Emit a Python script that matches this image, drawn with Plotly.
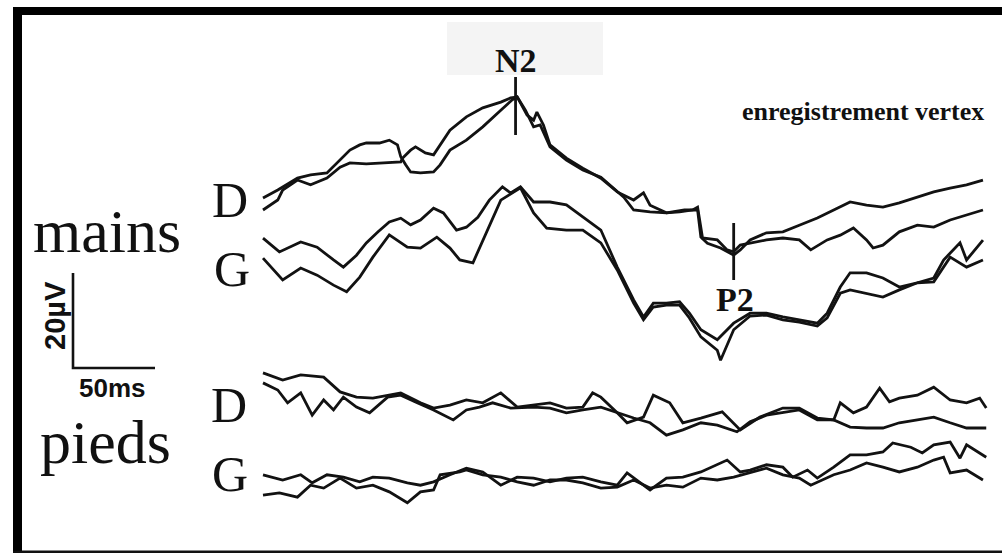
import plotly.graph_objects as go

# ---------------- data (time in ms, amplitude in µV, up = positive) ----------------
# mains, D (two superimposed recordings)
md1_t = [0, 9, 21, 29, 39, 47, 53, 59, 63, 71, 77, 82, 84, 87, 90, 96, 104, 108, 114, 124, 134, 145, 152, 155, 160,
         165, 169, 175, 185, 195, 206, 220, 226, 236, 246, 257, 265, 267, 271, 279, 287, 291, 297, 307, 317, 327, 338,
         348, 358, 368, 378, 388, 399, 409, 419, 429, 439]
md1_v = [0.4, 2.1, 4.6, 5.3, 5.7, 8.4, 10.5, 11.6, 12.0, 12.0, 12.6, 11.6, 9.1, 7.4, 5.9, 5.7, 5.9, 7.4, 10.5, 12.6,
         15.4, 18.9, 21.1, 21.7, 18.9, 15.4, 15.8, 11.2, 8.4, 6.3, 4.8, 0.6, -2.1, -2.5, -2.7, -2.1, -2.1, -7.8, -9.1,
         -10.1, -11.6, -10.5, -8.4, -6.9, -6.7, -5.3, -3.8, -2.1, -0.4, -1.1, -1.5, -0.6, 0.6, 1.7, 2.5, 3.2, 4.2]
md2_t = [0, 9, 12, 21, 29, 39, 47, 53, 63, 74, 84, 85, 90, 93, 99, 104, 108, 114, 124, 134, 145, 151, 155, 161, 165,
         167, 171, 175, 185, 195, 206, 216, 226, 232, 236, 246, 254, 262, 265, 268, 277, 283, 287, 291, 297, 307, 317,
         327, 334, 344, 352, 360, 368, 372, 378, 388, 399, 409, 419, 429, 439]
md2_v = [-2.1, 0, 2.1, 4.2, 3.2, 4.6, 6.9, 7.8, 7.6, 7.8, 8.0, 8.8, 10.5, 11.2, 9.9, 9.5, 11.6, 14.7, 17.5, 19.4, 20.6,
         21.5, 21.7, 17.9, 16.8, 18.5, 15.8, 11.6, 8.8, 6.7, 4.6, 1.7, 0, 1.5, -1.1, -2.7, -2.5, -2.1, -1.5, -8.0, -8.4,
         -10.5, -10.9, -9.5, -9.1, -8.4, -8.0, -8.4, -10.5, -8.4, -7.4, -5.9, -8.4, -10.1, -9.5, -6.7, -5.3, -5.7, -4.2,
         -3.2, -2.1]

# mains, G
mg1_t = [0, 10, 23, 33, 43, 49, 57, 63, 70, 77, 84, 90, 96, 104, 110, 118, 124, 131, 138, 146, 151, 157, 165, 175, 185,
         195, 206, 216, 226, 232, 238, 246, 254, 260, 267, 277, 287, 297, 307, 317, 327, 338, 344, 352, 358, 368, 378,
         388, 399, 409, 415, 425, 429, 439]
mg1_v = [2.5, -0.4, 1.7, 0.6, -2.1, -3.6, -1.1, 1.5, 3.8, 5.9, 6.7, 5.3, 6.3, 8.8, 7.8, 4.2, 4.8, 6.9, 10.5, 13.3, 12.0,
         13.3, 10.1, 10.1, 9.5, 6.9, 4.2, -3.6, -10.5, -14.1, -11.2, -11.2, -10.9, -13.3, -16.8, -18.9, -15.4, -13.3,
         -13.3, -14.1, -14.7, -15.4, -13.3, -7.8, -4.8, -4.8, -5.9, -7.8, -6.9, -5.9, -2.1, 1.5, -2.1, 2.1]
mg2_t = [0, 12, 23, 33, 43, 51, 59, 67, 77, 88, 96, 106, 114, 120, 128, 137, 145, 157, 165, 173, 185, 195, 206, 216,
         226, 232, 238, 246, 254, 260, 267, 277, 279, 287, 297, 307, 317, 327, 338, 344, 352, 358, 368, 378, 388, 399,
         409, 419, 429, 439]
mg2_v = [-1.7, -6.3, -3.8, -5.3, -7.4, -8.8, -5.7, -1.5, 3.2, 0.6, 0.4, 2.7, 0.4, -2.1, -2.7, 4.2, 10.5, 13.1, 7.8, 4.6,
         4.2, 4.2, 1.5, -4.2, -11.2, -14.7, -12.0, -11.6, -11.6, -14.3, -18.3, -21.1, -23.2, -16.8, -13.9, -13.7, -14.7,
         -15.2, -16.0, -14.3, -9.1, -8.4, -9.1, -9.9, -8.4, -6.9, -6.7, -1.5, -3.6, -2.1]

# pieds, D
pd1_t = [0, 12, 23, 37, 47, 57, 67, 84, 96, 104, 114, 124, 134, 145, 155, 165, 175, 185, 195, 201, 206, 216, 222, 232,
         238, 248, 256, 267, 280, 291, 303, 317, 327, 338, 348, 352, 360, 368, 376, 382, 388, 399, 409, 419, 429, 437, 441]
pd1_v = [3.6, 2.1, 3.2, 2.7, -0.4, -1.5, -1.7, -0.6, -2.7, -3.8, -3.2, -2.1, -2.7, -0.6, -3.6, -3.2, -2.7, -3.8, -3.6,
         -0.6, -1.5, -4.8, -6.9, -5.7, -1.1, -2.7, -6.9, -5.9, -4.6, -8.4, -5.7, -3.8, -3.8, -5.9, -6.3, -2.7, -4.8,
         -3.6, 0.4, -2.5, -1.7, -1.1, 0.6, -2.1, -2.7, -1.7, -3.8]
pd2_t = [0, 9, 15, 23, 30, 37, 43, 49, 57, 65, 76, 84, 94, 104, 116, 124, 132, 140, 151, 165, 175, 185, 195, 206, 226,
         236, 246, 256, 267, 277, 289, 297, 307, 320, 327, 338, 348, 358, 368, 378, 388, 399, 409, 419, 429, 441]
pd2_v = [1.5, 0, -2.7, -0.6, -5.3, -2.1, -4.2, -1.5, -3.6, -4.8, -1.5, -1.1, -2.7, -4.2, -6.3, -4.2, -3.6, -2.7, -3.8,
         -3.6, -3.8, -4.8, -4.2, -3.6, -5.9, -6.9, -9.5, -8.4, -6.9, -7.4, -8.8, -6.7, -5.3, -4.6, -4.2, -6.3, -6.3,
         -7.8, -8.0, -8.0, -6.9, -6.3, -5.7, -6.9, -8.0, -8.0]

# pieds, G
pg1_t = [0, 12, 23, 30, 39, 49, 59, 67, 77, 88, 96, 104, 114, 124, 134, 145, 155, 165, 175, 185, 195, 206, 216, 222,
         232, 236, 246, 256, 267, 273, 283, 291, 297, 307, 317, 323, 332, 338, 348, 358, 368, 378, 384, 395, 402, 409,
         419, 425, 429, 441]
pg1_v = [1.1, 0, 1.1, -0.6, 1.1, 0.6, -0.4, 0.6, 0.4, -0.6, -1.1, -0.4, 1.1, 2.5, 1.7, -1.1, 0.6, 0.4, -0.4, 0.4, 0.6,
         -0.4, -1.1, 1.5, -1.1, -2.1, 0.4, 0.6, 1.7, 2.7, 4.2, 1.7, 2.1, 3.2, 2.7, 0.6, 2.1, 0.4, 2.7, 5.3, 5.3, 5.9,
         7.8, 6.9, 5.7, 7.4, 8.0, 4.6, 7.4, 4.8]
pg2_t = [0, 10, 21, 29, 37, 47, 57, 67, 77, 88, 96, 104, 108, 120, 124, 134, 145, 155, 165, 175, 185, 195, 206, 216,
         226, 236, 246, 256, 267, 277, 287, 297, 307, 317, 327, 334, 348, 358, 368, 378, 388, 399, 409, 415, 419, 429, 439]
pg2_v = [-3.2, -2.7, -3.6, -1.1, -1.7, 0.4, -1.7, -1.1, -2.5, -4.8, -2.5, -2.1, 1.1, 1.7, 2.1, 1.1, 0.6, -0.4, -1.1, 0,
         0, -0.6, -1.7, -1.5, 0, -1.7, -1.1, -1.5, 0.4, 0, 0.6, 1.5, 2.5, 1.1, 0.4, -1.1, 1.1, 2.1, 3.6, 2.7, 1.7, 2.7,
         4.2, 4.8, 1.5, 2.1, 0]

# peak latencies marked on the mains traces (ms)
peak_names = ["N2", "P2"]
peak_times = [154, 287]

# calibration bar
scale_ms = 50
scale_uv = 20
scale_labels = ["50ms", "20µV"]

row_labels = ["mains", "pieds"]
side_labels = ["D", "G", "D", "G"]
title_text = "enregistrement vertex"

# ---------------- layout constants ----------------
W, H = 1002, 553
PX_PER_MS = 1.64
PX_PER_UV = 4.75
T0_PX = 263.0
X_RANGE = [-T0_PX / PX_PER_MS, (W - T0_PX) / PX_PER_MS]
Y_RANGE = [-H / PX_PER_UV, 0.0]

offsets = {"mD": -200 / PX_PER_UV, "mG": -250 / PX_PER_UV, "pD": -390 / PX_PER_UV, "pG": -480 / PX_PER_UV}
INK = "#121212"
LW = 2.8

series = [
    (md1_t, md1_v, "mD"), (md2_t, md2_v, "mD"),
    (mg1_t, mg1_v, "mG"), (mg2_t, mg2_v, "mG"),
    (pd1_t, pd1_v, "pD"), (pd2_t, pd2_v, "pD"),
    (pg1_t, pg1_v, "pG"), (pg2_t, pg2_v, "pG"),
]

fig = go.Figure()
for t, v, key in series:
    fig.add_trace(go.Scatter(
        x=t, y=[offsets[key] + a for a in v], mode="lines",
        line=dict(color=INK, width=LW), hoverinfo="skip", showlegend=False))

# calibration bar (L shape)
cx, cy = (73 - T0_PX) / PX_PER_MS, -368 / PX_PER_UV
fig.add_trace(go.Scatter(
    x=[cx, cx, cx + scale_ms], y=[cy + scale_uv, cy, cy], mode="lines",
    line=dict(color=INK, width=2.6), hoverinfo="skip", showlegend=False))

shapes = []
# faint grey box behind N2 (scan artefact)
shapes.append(dict(type="rect", xref="paper", yref="paper", x0=447 / W, x1=603 / W,
                   y0=1 - 75 / H, y1=1 - 22 / H, fillcolor="#f4f4f4", line=dict(width=0), layer="below"))
# peak markers
tick_px = {"N2": (77, 135), "P2": (223, 280)}
for name, tt in zip(peak_names, peak_times):
    a, b = tick_px[name]
    shapes.append(dict(type="line", xref="x", yref="y", x0=tt, x1=tt,
                       y0=-a / PX_PER_UV, y1=-b / PX_PER_UV, line=dict(color=INK, width=2.8)))
# frame
shapes.append(dict(type="rect", xref="paper", yref="paper", x0=13 / W, x1=22 / W, y0=0, y1=1 - 7 / H,
                   fillcolor="#000", line=dict(width=0)))
shapes.append(dict(type="rect", xref="paper", yref="paper", x0=13 / W, x1=1, y0=1 - 15 / H, y1=1 - 7 / H,
                   fillcolor="#000", line=dict(width=0)))
shapes.append(dict(type="rect", xref="paper", yref="paper", x0=13 / W, x1=1, y0=0, y1=2.5 / H,
                   fillcolor="#111", line=dict(width=0)))

SERIF = "Liberation Serif, Times New Roman, serif"
SANS = "Liberation Sans, Arial, sans-serif"


def ann(text, x, y, size, family, bold=False, xanchor="center", angle=0):
    return dict(text=("<b>%s</b>" % text) if bold else text, x=x / W, y=1 - y / H, xref="paper", yref="paper",
                xanchor=xanchor, yanchor="middle", showarrow=False, textangle=angle,
                font=dict(family=family, size=size, color="#111"))


annotations = [
    ann(peak_names[0], 516, 60, 34, SERIF, bold=True),
    ann(peak_names[1], 735, 299, 34, SERIF, bold=True),
    ann(title_text, 863, 111, 26, SERIF, bold=True),
    ann(row_labels[0], 31, 231, 62, SERIF, xanchor="left"),
    ann(row_labels[1], 38, 442, 62, SERIF, xanchor="left"),
    ann(side_labels[0], 230, 200, 50, SERIF),
    ann(side_labels[1], 232, 269, 50, SERIF),
    ann(side_labels[2], 229, 405, 50, SERIF),
    ann(side_labels[3], 230, 474, 50, SERIF),
    ann(scale_labels[0], 112, 388, 26, SANS, bold=True),
    ann(scale_labels[1], 55, 316, 29, SANS, bold=True, angle=-90),
]

fig.update_layout(
    width=W, height=H, margin=dict(l=0, r=0, t=0, b=0),
    paper_bgcolor="white", plot_bgcolor="white",
    xaxis=dict(range=X_RANGE, visible=False, domain=[0, 1], fixedrange=True),
    yaxis=dict(range=Y_RANGE, visible=False, domain=[0, 1], fixedrange=True),
    shapes=shapes, annotations=annotations, showlegend=False,
)

fig.write_html("out.html", config={"displayModeBar": False},
               post_script="document.body.style.margin='0px';document.body.style.overflow='hidden';")
